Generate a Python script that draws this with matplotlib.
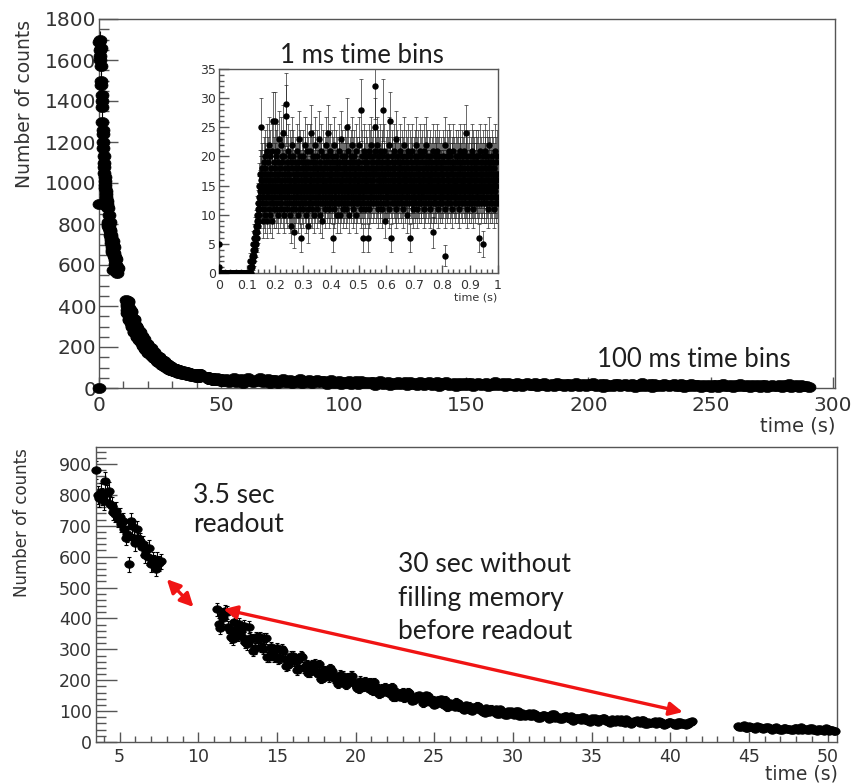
import numpy as np
import matplotlib
matplotlib.use("Agg")
import matplotlib.pyplot as plt
from matplotlib.ticker import MultipleLocator, FuncFormatter

# ---------------- data (100 ms bins) ----------------
# segment A: 0.0 .. 3.4 s, step 0.1 s (only visible in top panel)
segA_start, segA_step = 0.0, 0.1
segA_counts = [0, 900, 1690, 1650, 1700, 1620, 1600, 1660, 1570, 1500, 1480, 1430, 1400, 1370,
               1300, 1260, 1240, 1200, 1170, 1130, 1100, 1080, 1050, 1030, 1010, 990, 975, 960,
               945, 930, 920, 910, 900, 890, 885]
# segment B: 3.5 .. 7.6 s, step 0.1 s
segB_start, segB_step = 3.5, 0.1
segB_counts = [880, 800, 790, 810, 795, 780, 845, 805, 812, 770, 765, 745, 738, 748, 722, 730,
               705, 715, 690, 662, 672, 575, 715, 700, 662, 645, 690, 660, 650, 632, 640, 605,
               622, 598, 628, 575, 592, 582, 560, 590, 578, 585]
# segment C (even bins): 11.2 .. 41.4 s, step 0.2 s
segC_start, segC_step = 11.2, 0.2
segC_counts = [430, 368, 401, 420, 362, 333, 367, 381, 340, 323,
               372, 332, 303, 333, 308, 333, 275, 306, 276, 303,
               273, 295, 247, 266, 278, 263, 239, 275, 244, 224,
               249, 254, 220, 205, 232, 224, 238, 206, 197, 218,
               215, 186, 203, 214, 185, 171, 189, 197, 176, 167,
               193, 173, 158, 174, 162, 175, 146, 162, 147, 162,
               146, 158, 133, 144, 151, 143, 130, 150, 133, 121,
               135, 138, 120, 112, 126, 121, 130, 112, 107, 120,
               118, 101, 111, 117, 102, 94, 104, 108, 97, 92,
               107, 96, 88, 98, 91, 99, 83, 93, 85, 93,
               84, 92, 78, 85, 89, 85, 77, 90, 80, 74,
               82, 85, 74, 69, 79, 77, 82, 72, 69, 77,
               77, 66, 73, 77, 67, 63, 70, 74, 66, 64,
               74, 67, 61, 69, 64, 70, 58, 66, 60, 67,
               60, 66, 56, 61, 65, 61, 56, 66, 59, 56,
               64, 68]
# segment C (odd bins): 11.3 .. 41.3 s, step 0.2 s
segC2_start, segC2_step = 11.3, 0.2
segC2_counts = [381, 412, 424, 373, 339, 388, 345, 360, 375, 317,
                338, 296, 339, 339, 302, 336, 275, 291, 297, 269,
                300, 268, 249, 277, 263, 233, 277, 238, 251, 227,
                251, 231, 251, 208, 227, 209, 231, 207, 189, 214,
                191, 208, 215, 190, 174, 199, 178, 186, 193, 164,
                176, 154, 176, 178, 158, 177, 145, 154, 159, 143,
                161, 144, 135, 150, 142, 126, 151, 130, 137, 123,
                137, 126, 136, 113, 123, 113, 126, 113, 103, 118,
                104, 113, 118, 104, 96, 109, 98, 102, 107, 90,
                97, 86, 99, 100, 89, 100, 83, 88, 91, 83,
                93, 84, 79, 88, 84, 75, 90, 78, 82, 74,
                84, 77, 84, 71, 78, 71, 80, 72, 66, 76,
                68, 75, 77, 69, 64, 73, 66, 69, 73, 62,
                68, 59, 69, 70, 63, 70, 59, 62, 65, 59,
                67, 60, 57, 64, 61, 55, 66, 58, 62, 57, 66]
# segment D (even bins): 44.3 .. 50.5 s, step 0.2 s
segD_start, segD_step = 44.3, 0.2
segD_counts = [52, 48, 54, 46, 50, 44, 51, 47, 42, 49, 45, 40, 47, 43, 39, 46, 42, 38, 44, 40,
               47, 42, 38, 44, 40, 37, 42, 39, 44, 37, 40, 36]
# segment D (odd bins): 44.4 .. 50.4 s, step 0.2 s
segD2_start, segD2_step = 44.4, 0.2
segD2_counts = [49, 53, 45, 51, 47, 43, 50, 46, 44, 48, 41, 46, 43, 40, 45, 41, 43, 39, 46, 41,
                38, 43, 40, 44, 38, 42, 39, 36, 41, 38, 35]
# segment E: 52 .. 290 s, step 1 s (top panel only)
segE_start, segE_step = 52.0, 1.0
segE_counts = [45, 30, 39, 49, 28, 36, 42, 25, 38, 47, 33, 27, 41, 35, 48, 29, 37, 44, 26, 40,
               38, 24, 35, 43, 28, 31, 40, 22, 34, 29, 42, 26, 36, 30, 41, 23, 33, 39, 27, 35,
               33, 20, 29, 37, 23, 27, 34, 18, 30, 25, 36, 21, 28, 32, 19, 35, 24, 29, 22, 31,
               28, 17, 25, 32, 19, 23, 30, 15, 26, 21, 31, 18, 24, 27, 16, 29, 20, 25, 14, 27,
               25, 14, 22, 28, 16, 20, 27, 12, 23, 18, 29, 15, 21, 24, 11, 26, 17, 22, 13, 24,
               23, 12, 20, 26, 14, 18, 25, 10, 21, 16, 27, 13, 19, 22, 9, 24, 15, 20, 11, 22,
               21, 11, 18, 24, 13, 16, 23, 9, 19, 15, 25, 12, 17, 20, 8, 22, 14, 18, 10, 21,
               19, 10, 17, 22, 12, 15, 21, 8, 18, 13, 23, 11, 16, 19, 7, 20, 12, 17, 9, 19,
               18, 9, 16, 21, 11, 14, 20, 7, 17, 12, 22, 10, 15, 18, 6, 19, 11, 16, 8, 18,
               16, 8, 14, 19, 10, 12, 18, 6, 15, 11, 20, 9, 13, 16, 5, 17, 10, 14, 7, 16,
               15, 7, 13, 18, 9, 11, 17, 5, 14, 10, 19, 8, 12, 15, 4, 16, 9, 13, 6, 15,
               14, 6, 12, 17, 8, 10, 16, 5, 13, 9, 18, 7, 11, 14, 4, 15, 8, 12, 6]

# ---------------- inset data (1 ms bins, 0 .. 1 s) ----------------
inset_start, inset_step = 0.0005, 0.001
inset_counts_pre = [5, 1, 0, 0, 0, 0, 0, 0, 0, 0, 0, 0, 0, 0, 0, 0, 0, 0, 0, 0, 0, 0, 0, 0, 0, 0,
                    0, 0, 0, 0, 0, 0, 0, 0, 0, 0, 0, 0, 0, 0, 0, 0, 0, 0, 0, 0, 0, 0, 0, 0,
                    0, 0, 0, 0, 0, 0, 0, 0, 0, 0, 0, 0, 0, 0, 0, 0, 0, 0, 0, 0, 0, 0, 0, 0,
                    0, 0, 0, 0, 0, 0, 0, 0, 0, 0, 0, 0, 0, 0, 0, 0, 0, 0, 0, 0, 0, 0, 0, 0,
                    0, 0, 0, 0, 0, 0, 0, 0, 0, 0, 0, 0]
inset_counts_rise = [1, 0, 2, 1, 1, 0, 2, 3, 1, 2, 4, 2, 3, 5, 3, 4, 6, 5, 4, 7, 6, 5, 8, 7, 6, 9,
                     10, 7, 8, 11, 9, 12, 10, 13, 15, 11, 14, 17, 12, 16]
inset_counts_flat = [
    17,25,13,15,18,12,16,9,14,19,11,17,13,20,15,10,18,14,16,12,21,13,17,9,15,
    14,19,11,16,22,13,10,17,15,20,12,18,14,9,16,21,13,15,26,12,17,11,19,14,16,
    13,18,26,15,11,20,14,17,12,21,16,10,19,14,23,13,17,15,11,18,22,14,16,12,20,
    15,13,19,11,17,24,14,16,10,20,13,18,15,29,12,17,27,14,19,11,16,21,13,18,15,
    12,17,14,20,10,16,8,19,13,15,22,11,18,14,16,12,20,15,7,17,13,19,11,16,14,
    18,12,15,21,13,17,10,19,14,16,23,12,18,15,11,20,14,17,13,6,16,19,12,15,18,
    14,20,11,17,13,16,22,15,12,19,14,18,10,16,21,13,17,15,11,19,8,14,18,12,16,
    15,21,13,17,24,12,16,19,14,11,18,15,20,13,17,10,16,22,14,19,12,15,18,13,17,
    11,16,20,14,18,12,15,23,13,17,10,19,14,16,21,12,18,15,13,17,9,16,20,14,15,
    18,12,17,13,19,15,11,16,22,14,18,12,20,15,17,13,24,16,11,19,14,17,12,21,15,
    13,18,16,12,20,14,17,6,15,19,13,16,22,11,18,14,17,12,20,15,13,19,16,10,18,
    14,17,12,21,15,19,13,16,10,18,14,23,15,12,17,20,13,16,19,11,15,18,14,17,12,
    20,15,13,18,16,11,19,14,25,12,17,15,21,13,16,18,10,14,19,15,17,12,20,16,13,
    18,14,22,11,16,19,13,17,15,12,20,14,18,16,10,17,13,21,15,19,12,16,14,18,15,
    13,19,16,22,12,17,14,11,28,15,18,13,16,20,6,14,17,12,19,15,21,13,16,18,11,
    15,20,14,17,12,19,16,6,13,18,15,21,11,17,14,20,16,12,18,15,13,22,17,14,19,
    12,16,20,15,18,13,17,21,25,32,14,19,12,17,15,22,13,18,16,11,20,14,17,15,19,
    13,16,21,12,18,15,14,20,17,11,19,16,28,13,15,18,12,21,14,17,16,9,19,13,15,
    18,14,20,12,17,15,19,13,16,22,11,18,15,26,14,6,17,13,19,16,12,20,15,18,14,
    17,13,21,15,19,12,16,18,14,23,11,17,15,20,13,16,19,12,18,14,17,15,21,13,16,
    19,12,15,18,14,17,20,13,16,11,19,15,17,22,14,18,12,16,20,13,15,17,10,19,14,
    16,13,18,21,15,12,17,14,20,6,16,13,19,15,17,12,21,14,18,16,11,15,19,13,17,
    14,20,16,12,18,15,13,22,17,11,19,14,16,20,13,15,18,12,17,14,21,16,13,19,15,
    12,17,14,20,16,18,13,15,21,11,17,14,19,16,12,18,15,22,13,17,14,20,16,12,18,
    15,13,19,16,11,17,14,20,15,18,12,16,19,14,17,13,21,15,7,18,12,16,20,14,17,
    13,19,15,12,18,16,14,21,11,17,15,19,13,16,20,14,18,12,15,17,13,19,16,14,18,
    12,20,15,17,13,19,14,16,22,11,3,15,18,13,17,20,14,16,12,19,15,17,13,21,14,
    16,18,12,15,20,14,17,13,19,15,11,18,16,21,14,17,13,15,19,12,18,16,14,20,15,
    13,17,19,14,16,12,20,15,18,13,17,11,19,14,16,21,15,13,18,12,17,15,20,14,16,
    19,13,17,15,21,12,18,14,16,20,13,24,15,17,11,19,14,16,18,12,15,20,13,17,14,
    16,19,12,18,15,21,13,17,14,20,11,16,18,15,13,19,17,12,16,20,14,18,15,13,17,
    19,14,16,12,20,15,18,6,13,17,21,14,16,19,12,15,18,13,17,5,20,14,16,12,18,
    15,13,19,16,21,14,17,12,18,15,20,13,16,19,11,17,14,18,22,15,12,16,19,14,17,
    13,18,15,20,12,16,19,14,17,11,18,15,21,13,16,14,19,12,17,15,20,13,16,12,17]

# annotation arrows (data coordinates of the bottom panel)
short_arrow = ((8.0, 527), (9.7, 437))
long_arrow = ((11.6, 430), (40.8, 97))

# ---------------- style ----------------
W, H = 858, 783
TICK_COL = "#555555"
LAB_COL = "#333333"
TXT_COL = "#1e1e1e"
ANN_FONT = ["Lato", "DejaVu Sans"]
plt.rcParams["font.family"] = ["DejaVu Sans"]

fig = plt.figure(figsize=(W / 100, H / 100), dpi=100)


def rect(l, t, r, b):
    return [l / W, 1 - b / H, (r - l) / W, (b - t) / H]


def times(start, step, vals):
    return start + step * np.arange(len(vals))


def ellipse_marker(ratio):
    th = np.linspace(0, 2 * np.pi, 41)
    return np.column_stack([np.cos(th), ratio * np.sin(th)])


def style_axis(ax, xmaj, xmin, ymaj, ymin, xl, yl, fs, xpad, ypad):
    ax.xaxis.set_major_locator(MultipleLocator(xmaj))
    ax.xaxis.set_minor_locator(MultipleLocator(xmin))
    ax.yaxis.set_major_locator(MultipleLocator(ymaj))
    ax.yaxis.set_minor_locator(MultipleLocator(ymin))
    ax.tick_params(axis="x", which="major", direction="in", length=xl[0], width=1,
                   color=TICK_COL, labelcolor=LAB_COL, labelsize=fs, pad=xpad, top=False)
    ax.tick_params(axis="x", which="minor", direction="in", length=xl[1], width=1,
                   color=TICK_COL, top=False)
    ax.tick_params(axis="y", which="major", direction="in", length=yl[0], width=1,
                   color=TICK_COL, labelcolor=LAB_COL, labelsize=fs, pad=ypad, right=False)
    ax.tick_params(axis="y", which="minor", direction="in", length=yl[1], width=1,
                   color=TICK_COL, right=False)
    for s in ax.spines.values():
        s.set_color(TICK_COL)
        s.set_linewidth(1.0)


def draw_points(ax, t, v, ms, ratio, elw, cap):
    v = np.asarray(v, dtype=float)
    ax.errorbar(t, v, yerr=np.sqrt(v), fmt="none", ecolor="black", elinewidth=elw,
                capsize=cap, capthick=elw)
    ax.plot(t, v, linestyle="none", marker=ellipse_marker(ratio), ms=ms, color="black",
            mec="black", mew=0.5, clip_on=False, zorder=3)


segments_common = [(segB_start, segB_step, segB_counts), (segC_start, segC_step, segC_counts),
                   (segC2_start, segC2_step, segC2_counts), (segD_start, segD_step, segD_counts),
                   (segD2_start, segD2_step, segD2_counts)]

# ---------- top panel ----------
ax1 = fig.add_axes(rect(99, 19, 835, 388))
for st, sp, vals in [(segA_start, segA_step, segA_counts)] + segments_common + \
        [(segE_start, segE_step, segE_counts)]:
    draw_points(ax1, times(st, sp, vals), vals, 9.4, 0.77, 0.8, 0)
ax1.set_xlim(0, 300.8)
ax1.set_ylim(0, 1800)
style_axis(ax1, 50, 10, 200, 50, (8, 5), (14, 7), 14.5, 5.5, 2)
fig.text(25 / W, 1 - 20 / H, "Number of counts", rotation=90, ha="center", va="top",
         fontsize=13.5, color=LAB_COL)
fig.text(835 / W, 1 - 426 / H, "time (s)", ha="right", va="center", fontsize=14, color=LAB_COL)
fig.text(597 / W, 1 - 367 / H, "100 ms time bins", ha="left", va="baseline",
         fontsize=18.5, family=ANN_FONT, color=TXT_COL)

# ---------- inset ----------
ax3 = fig.add_axes(rect(219, 69, 498, 273))
ax3.set_facecolor("white")
iv = inset_counts_pre + inset_counts_rise + inset_counts_flat
it = times(inset_start, inset_step, iv)
ivf = np.asarray(iv, dtype=float)
ax3.errorbar(it, ivf, yerr=np.sqrt(ivf), fmt="none", ecolor="#202020", elinewidth=0.55,
             capsize=1.2, capthick=0.55, alpha=0.85)
ax3.plot(it, ivf, "o", ms=3.6, color="black", zorder=3)
ax3.set_xlim(0, 1)
ax3.set_ylim(0, 35)
style_axis(ax3, 0.1, 0.02, 5, 1, (6, 3), (7, 3.5), 9, 4, 2)
ax3.xaxis.set_major_formatter(FuncFormatter(lambda x, p: f"{x:g}"))
fig.text(497 / W, 1 - 297 / H, "time (s)", ha="right", va="center", fontsize=8, color=LAB_COL)
fig.text(280 / W, 1 - 63 / H, "1 ms time bins", ha="left", va="baseline",
         fontsize=18.5, family=ANN_FONT, color=TXT_COL)

# ---------- bottom panel ----------
ax2 = fig.add_axes(rect(96, 447, 837, 742))
for st, sp, vals in segments_common:
    draw_points(ax2, times(st, sp, vals), vals, 6.8, 0.8, 0.8, 1.5)
ax2.set_xlim(3.5, 50.6)
ax2.set_ylim(0, 955)
style_axis(ax2, 5, 1, 100, 20, (7, 4), (15, 7), 12.5, 4, 3)
fig.text(22 / W, 1 - 448 / H, "Number of counts", rotation=90, ha="center", va="top",
         fontsize=12, color=LAB_COL)
fig.text(838 / W, 1 - 774 / H, "time (s)", ha="right", va="center", fontsize=13.5,
         color=LAB_COL)

for (x0, y0), (x1, y1) in [short_arrow, long_arrow]:
    ax2.annotate("", xy=(x1, y1), xytext=(x0, y0),
                 arrowprops=dict(arrowstyle="<|-|>", color="#f01414", lw=2.4,
                                 mutation_scale=20, shrinkA=0, shrinkB=0))

fig.text(193 / W, 1 - 503 / H, "3.5 sec", ha="left", va="baseline", fontsize=19,
         family=ANN_FONT, color=TXT_COL)
fig.text(193 / W, 1 - 532 / H, "readout", ha="left", va="baseline", fontsize=19,
         family=ANN_FONT, color=TXT_COL)
for txt, yb in [("30 sec without", 572), ("filling memory", 606), ("before readout", 639)]:
    fig.text(398 / W, 1 - yb / H, txt, ha="left", va="baseline", fontsize=19,
             family=ANN_FONT, color=TXT_COL)

fig.savefig("out.png", dpi=100)
